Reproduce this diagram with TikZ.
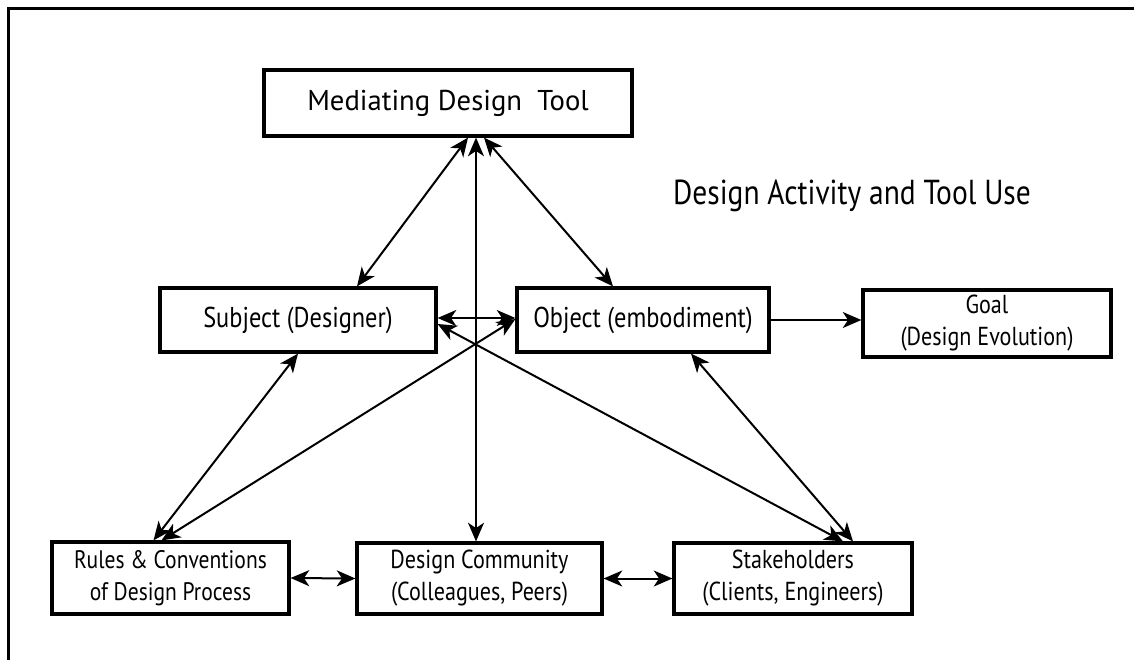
\documentclass[tikz,border=0pt]{standalone}
\usepackage{fontspec}
\setmainfont{PT Sans}[FakeStretch=0.85]
\newfontfamily\plainsans{PT Sans}
\usetikzlibrary{arrows.meta,calc}

\begin{document}
\begin{tikzpicture}[x=0.75pt,y=-0.75pt,
  box/.style={draw, line width=2.4pt, rectangle, align=center, inner sep=0pt,
    font=\fontsize{21.5}{25}\selectfont},
  small/.style={font=\fontsize{19.5}{24}\selectfont},
  link/.style={line width=1.5pt, {Stealth[length=14pt,width=12pt,inset=4pt]}-{Stealth[length=14pt,width=12pt,inset=4pt]}},
  onelink/.style={line width=1.5pt, -{Stealth[length=14pt,width=12pt,inset=4pt]}},
]
\useasboundingbox (0,0) rectangle (1134,660);

% outer frame (left and top edges)
\draw[line width=2.4pt] (8.5,660) -- (8.5,8.5) -- (1134,8.5);

% boxes
\node[box, font=\plainsans\fontsize{21.5}{25}\selectfont, minimum width=276pt, minimum height=49.5pt] (mdt) at (448,103) {Mediating Design\ \ Tool};
\node[box, minimum width=207pt, minimum height=48pt] (subj) at (298,320) {Subject (Designer)};
\node[box, minimum width=189pt, minimum height=48pt] (obj) at (643,320) {Object (embodiment)};
\node[box, small, minimum width=186pt, minimum height=50.25pt] (goal) at (987,323.5) {Goal\\(Design Evolution)};
\node[box, font=\fontsize{19}{24.5}\selectfont, minimum width=177.75pt, minimum height=54pt] (rules) at (170.5,578) {Rules \& Conventions\\of Design Process};
\node[box, small, minimum width=183.75pt, minimum height=53.25pt] (comm) at (479.5,578.5) {Design Community\\(Colleagues, Peers)};
\node[box, small, minimum width=178.5pt, minimum height=53.25pt] (stake) at (793,578.5) {Stakeholders\\(Clients, Engineers)};

% title
\node[font=\fontsize{26}{30}\selectfont, inner sep=0pt] (title) at (852,196) {Design Activity and Tool Use};

% connectors
\draw[link] ($(mdt.south)+(20,0)$) -- ($(subj.north)+(59,0)$);
\draw[link] ($(mdt.south)+(36,0)$) -- ($(obj.north)+(-30,0)$);
\draw[link] ($(mdt.south)+(28,0)$) -- ($(comm.north)+(-3.5,0)$);
\draw[link] ($(subj.east)+(0,-2)$) -- ($(obj.west)+(0,-2)$);
\draw[link] ($(subj.east)+(0,4)$) -- ($(stake.north)+(50,0)$);
\draw[link] ($(obj.south)+(48,0)$) -- ($(stake.north)+(60,0)$);
\draw[link] (subj.south) -- ($(rules.north)+(-17,0)$);
\draw[link] ($(obj.west)+(0,-1)$) -- ($(rules.north)+(-9,0)$);
\draw[onelink] (obj.east) -- (obj.east -| goal.west);
\draw[link] (rules.east) -- (comm.west);
\draw[link] (comm.east) -- (stake.west);
\end{tikzpicture}
\end{document}
